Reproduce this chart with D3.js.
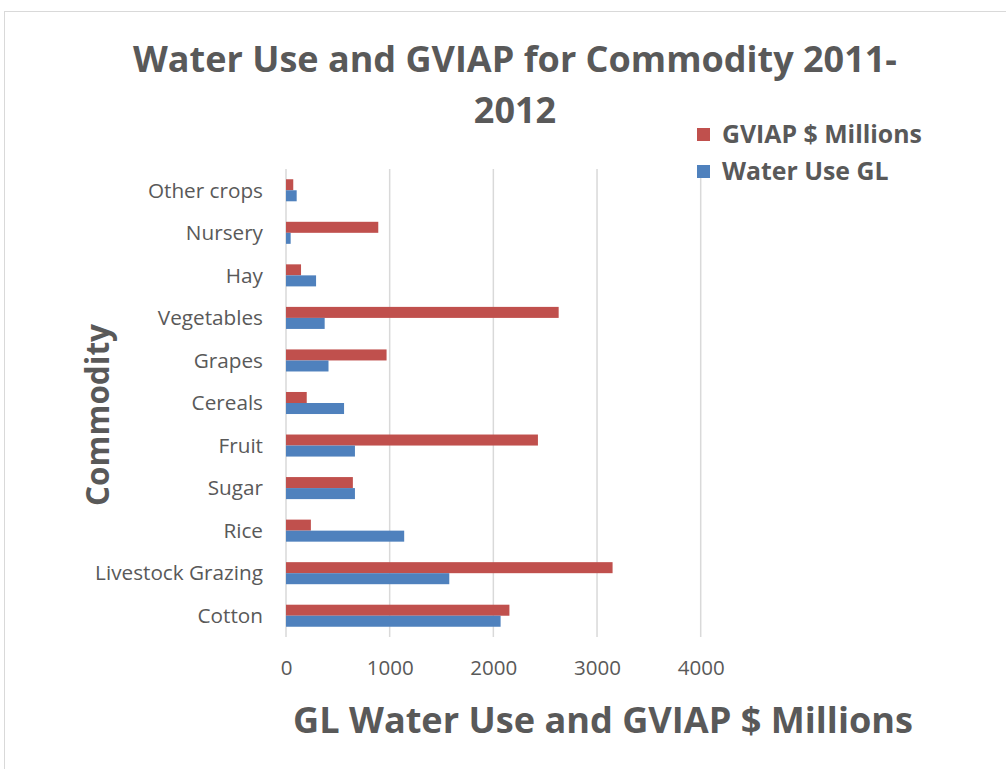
<!DOCTYPE html>
<html>
<head>
<meta charset="utf-8">
<script src="https://cdn.jsdelivr.net/npm/d3@7"></script>
<style>
  html, body { margin: 0; padding: 0; background: #fff; }
  svg { display: block; }
  text { font-family: "Open Sans", "Liberation Sans", sans-serif; fill: #595959; }
</style>
</head>
<body>
<svg id="chart" width="1006" height="769"></svg>
<script>
// Commodities, top to bottom as listed on the axis
const categories = ["Other crops", "Nursery", "Hay", "Vegetables", "Grapes", "Cereals",
                    "Fruit", "Sugar", "Rice", "Livestock Grazing", "Cotton"];
// GVIAP ($ millions) and water use (GL) for 2011-2012
const gviap    = [70, 890, 145, 2630, 970, 200, 2430, 645, 240, 3150, 2155];
const waterUse = [103, 45, 290, 373, 410, 560, 665, 665, 1140, 1575, 2070];
const xTicks = [0, 1000, 2000, 3000, 4000];

const series = [
  { name: "GVIAP $ Millions", values: gviap, color: "#C0504D" },
  { name: "Water Use GL", values: waterUse, color: "#4F81BD" }
];

const svg = d3.select("#chart");

// outer chart frame
svg.append("rect")
  .attr("x", 4.5).attr("y", 11.5).attr("width", 1010).attr("height", 780)
  .attr("fill", "#fff").attr("stroke", "#d9d9d9").attr("stroke-width", 1);

const plot = { left: 286, right: 700.7, top: 169, bottom: 637 };

const x = d3.scaleLinear().domain([0, 4000]).range([plot.left, plot.right]);
const y = d3.scaleBand().domain(categories).range([plot.top, plot.bottom]).paddingInner(0).paddingOuter(0);
const inner = d3.scaleBand().domain(series.map(s => s.name))
  .range([0, y.bandwidth()]).paddingInner(0).paddingOuter(0.93);

// vertical gridlines
svg.append("g").selectAll("line").data(xTicks).join("line")
  .attr("x1", d => x(d)).attr("x2", d => x(d))
  .attr("y1", plot.top).attr("y2", plot.bottom)
  .attr("stroke", "#d9d9d9").attr("stroke-width", 1.5);

// bars
const groups = svg.append("g").selectAll("g").data(categories).join("g")
  .attr("transform", c => `translate(0,${y(c)})`);
groups.selectAll("rect")
  .data((c, i) => series.map(s => ({ s, v: s.values[i] })))
  .join("rect")
  .attr("x", x(0))
  .attr("y", d => inner(d.s.name))
  .attr("width", d => x(d.v) - x(0))
  .attr("height", inner.bandwidth())
  .attr("fill", d => d.s.color);

// fit a text element's font size so it spans the given width
function fitText(sel, width) {
  const node = sel.node();
  const size = parseFloat(sel.attr("font-size"));
  const w = node.getComputedTextLength();
  sel.attr("font-size", size * width / w);
}

// x axis tick labels
const xAxis = d3.axisBottom(x).tickValues(xTicks).tickSize(0).tickPadding(0).tickFormat(d3.format("d"));
const gx = svg.append("g").attr("transform", `translate(0,${plot.bottom})`).call(xAxis);
gx.select(".domain").remove();
gx.selectAll("text").attr("font-size", 18).attr("dy", null).attr("y", 38)
  .style("font-family", "\"Open Sans\", sans-serif").attr("fill", "#595959");
fitText(gx.selectAll("text").filter(d => d === 1000), 47);
gx.selectAll("text").attr("font-size", gx.selectAll("text").filter(d => d === 1000).attr("font-size"));

// category labels
const yAxis = d3.axisLeft(y).tickSize(0).tickPadding(0);
const gy = svg.append("g").attr("transform", `translate(263,0)`).call(yAxis);
gy.select(".domain").remove();
gy.selectAll("text").attr("font-size", 18.5).attr("x", 0).attr("dy", "0.35em")
  .style("font-family", "\"Open Sans\", sans-serif").attr("fill", "#595959");
const longest = gy.selectAll("text").filter(d => d === "Livestock Grazing");
fitText(longest, 168);
gy.selectAll("text").attr("font-size", longest.attr("font-size"));

// title
const t1 = svg.append("text").attr("x", 515).attr("y", 72).attr("text-anchor", "middle")
  .attr("font-weight", "bold").attr("font-size", 36).text("Water Use and GVIAP for Commodity 2011-");
fitText(t1, 764);
svg.append("text").attr("x", 515).attr("y", 123).attr("text-anchor", "middle")
  .attr("font-weight", "bold").attr("font-size", t1.attr("font-size")).text("2012");

// x axis title
const xt = svg.append("text").attr("x", 603).attr("y", 733).attr("text-anchor", "middle")
  .attr("font-weight", "bold").attr("font-size", 34).text("GL Water Use and GVIAP $ Millions");
fitText(xt, 620);

// y axis title
const yt = svg.append("text").attr("transform", "translate(109,415) rotate(-90)")
  .attr("text-anchor", "middle").attr("font-weight", "bold").attr("font-size", 30).text("Commodity");
fitText(yt, 182);

// legend
const legend = svg.append("g").selectAll("g").data(series).join("g")
  .attr("transform", (d, i) => `translate(697,${128 + i * 37})`);
legend.append("rect").attr("width", 13).attr("height", 13).attr("fill", d => d.color);
legend.append("text").attr("x", 25).attr("y", 15).attr("font-weight", "bold")
  .attr("font-size", 22).text(d => d.name);
fitText(legend.select("text"), 200);
legend.selectAll("text").attr("font-size", legend.select("text").attr("font-size"));
</script>
</body>
</html>
